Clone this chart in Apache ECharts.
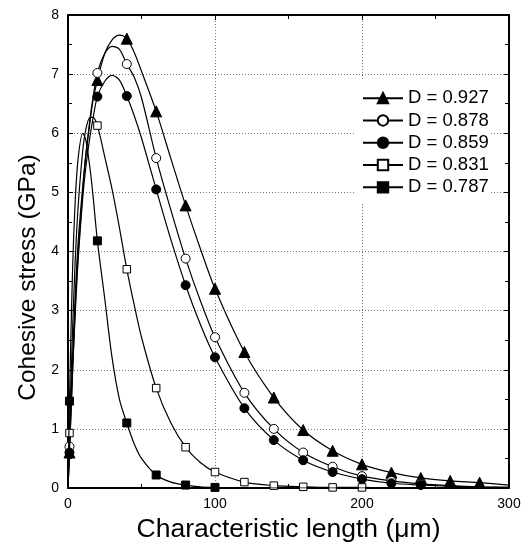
<!DOCTYPE html>
<html>
<head>
<meta charset="utf-8">
<script src="https://cdn.jsdelivr.net/npm/echarts@6/dist/echarts.min.js"></script>
<style>
  html, body { margin: 0; padding: 0; background: #fff; }
  #chart { width: 528px; height: 556px; }
</style>
</head>
<body>
<div id="chart"></div>
<script>
const xGrid = [0, 1, 3, 5, 7, 10, 12, 15, 17, 20, 25, 30, 35, 40, 45, 50, 60, 70, 80, 90, 100,
    120, 140, 160, 180, 200, 220, 240, 260, 280, 300];
// x positions that carry a marker
const markerX = [1, 20, 40, 60, 80, 100, 120, 140, 160, 180, 200, 220, 240, 260, 280];

const names = ['D = 0.927', 'D = 0.878', 'D = 0.859', 'D = 0.831', 'D = 0.787'];

// cohesive stress (GPa) read at xGrid
const y927 = [0, 0.6, 1.9, 3.1, 4.0, 5.0, 5.6, 6.2, 6.55, 6.9, 7.35, 7.58, 7.66, 7.6, 7.37, 7.05, 6.37, 5.57, 4.78, 4.05, 3.37,
    2.3, 1.53, 0.98, 0.63, 0.4, 0.26, 0.17, 0.12, 0.09, 0.05];
const y878 = [0, 0.7, 2.1, 3.3, 4.2, 5.1, 5.6, 6.25, 6.6, 7.02, 7.35, 7.47, 7.42, 7.17, 6.95, 6.6, 5.58, 4.7, 3.88, 3.17, 2.55,
    1.61, 1.0, 0.6, 0.36, 0.2, 0.12, 0.07, 0.04, 0.02, 0.01];
const y859 = [0, 0.6, 1.9, 3.0, 3.9, 4.9, 5.4, 5.95, 6.25, 6.62, 6.88, 6.98, 6.9, 6.63, 6.3, 5.92, 5.05, 4.2, 3.43, 2.77, 2.21,
    1.35, 0.81, 0.47, 0.27, 0.15, 0.08, 0.05, 0.03, 0.01, 0.01];
const y831 = [0, 0.93, 2.6, 3.9, 4.8, 5.7, 6.05, 6.27, 6.27, 6.13, 5.6, 5.05, 4.4, 3.7, 3.1, 2.55, 1.69, 1.1, 0.69, 0.43, 0.27,
    0.1, 0.04, 0.02, 0.01, 0.01, 0, 0, 0, 0, 0];
const y787 = [0, 1.47, 3.6, 4.9, 5.6, 6.0, 5.9, 5.4, 4.95, 4.18, 3.2, 2.2, 1.5, 1.1, 0.75, 0.5, 0.22, 0.1, 0.05, 0.02, 0.01,
    0, 0, 0, 0, 0, 0, 0, 0, 0, 0];

// last x that still shows a marker
const lastMarker = [280, 240, 240, 200, 100];

const font = 'Liberation Sans, Arial, sans-serif';

const styles = [
    { symbol: 'triangle', size: 11, fill: '#000' },
    { symbol: 'circle', size: 9, fill: '#fff' },
    { symbol: 'circle', size: 9, fill: '#000' },
    { symbol: 'rect', size: 7.5, fill: '#fff' },
    { symbol: 'rect', size: 8, fill: '#000' },
];

const buildData = (ys, last) =>
    xGrid.map((x, i) => {
        if (markerX.includes(x) && x <= last) {
            return { value: [x, ys[i]] };
        }
        return { value: [x, ys[i]], symbol: 'none' };
    });

const allY = [y927, y878, y859, y831, y787];
const series = allY.map((ys, k) => ({
    name: names[k],
    type: 'line',
    data: buildData(ys, lastMarker[k]),
    smooth: 0.3,
    showSymbol: true,
    showAllSymbol: true,
    symbol: styles[k].symbol,
    symbolSize: styles[k].size,
    lineStyle: { color: '#000', width: 1.2 },
    itemStyle: { color: styles[k].fill, borderColor: '#000', borderWidth: 1 },
    emphasis: { disabled: true },
    z: 3 + k,
}));

const axisCommon = {
    axisLine: { show: true, onZero: false, lineStyle: { color: '#000', width: 2 } },
    axisTick: { show: true, inside: true, length: 5, lineStyle: { color: '#000', width: 1 } },
    minorTick: { show: true, splitNumber: 2, length: 4, lineStyle: { color: '#000', width: 1 } },
};

const myChart = echarts.init(document.getElementById('chart'), null, { renderer: 'canvas' });
myChart.setOption({
    animation: false,
    backgroundColor: '#fff',
    grid: { left: 68, top: 15, width: 441, height: 473 },
    legend: {
        orient: 'vertical',
        left: 355,
        top: 80,
        padding: [8, 2, 6, 7],
        backgroundColor: '#fff',
        itemWidth: 40,
        itemHeight: 13,
        itemGap: 2,
        textStyle: { color: '#000', fontSize: 18.5, fontFamily: font, lineHeight: 20.3 },
        data: names,
    },
    xAxis: [
        {
            type: 'value',
            position: 'bottom',
            min: 0,
            max: 300,
            interval: 100,
            ...axisCommon,
            splitLine: { show: true, lineStyle: { color: '#777', type: [1, 2], width: 1 } },
            axisLabel: { color: '#000', fontSize: 14, fontFamily: font, margin: 9 },
            name: 'Characteristic length (μm)',
            nameLocation: 'middle',
            nameGap: 28,
            nameTextStyle: { color: '#000', fontSize: 26.5, fontFamily: font },
        },
        {
            type: 'value',
            position: 'top',
            min: 0,
            max: 300,
            interval: 100,
            ...axisCommon,
            splitLine: { show: false },
            axisLabel: { show: false },
        },
    ],
    yAxis: [
        {
            type: 'value',
            position: 'left',
            min: 0,
            max: 8,
            interval: 1,
            ...axisCommon,
            splitLine: { show: true, lineStyle: { color: '#777', type: [1, 2], width: 1 } },
            axisLabel: { color: '#000', fontSize: 14, fontFamily: font, margin: 9 },
            name: 'Cohesive stress (GPa)',
            nameLocation: 'middle',
            nameGap: 27,
            nameTextStyle: { color: '#000', fontSize: 24.5, fontFamily: font, padding: [0, 52, 0, 0] },
        },
        {
            type: 'value',
            position: 'right',
            min: 0,
            max: 8,
            interval: 1,
            ...axisCommon,
            splitLine: { show: false },
            axisLabel: { show: false },
        },
    ],
    series: series,
});
</script>
</body>
</html>
